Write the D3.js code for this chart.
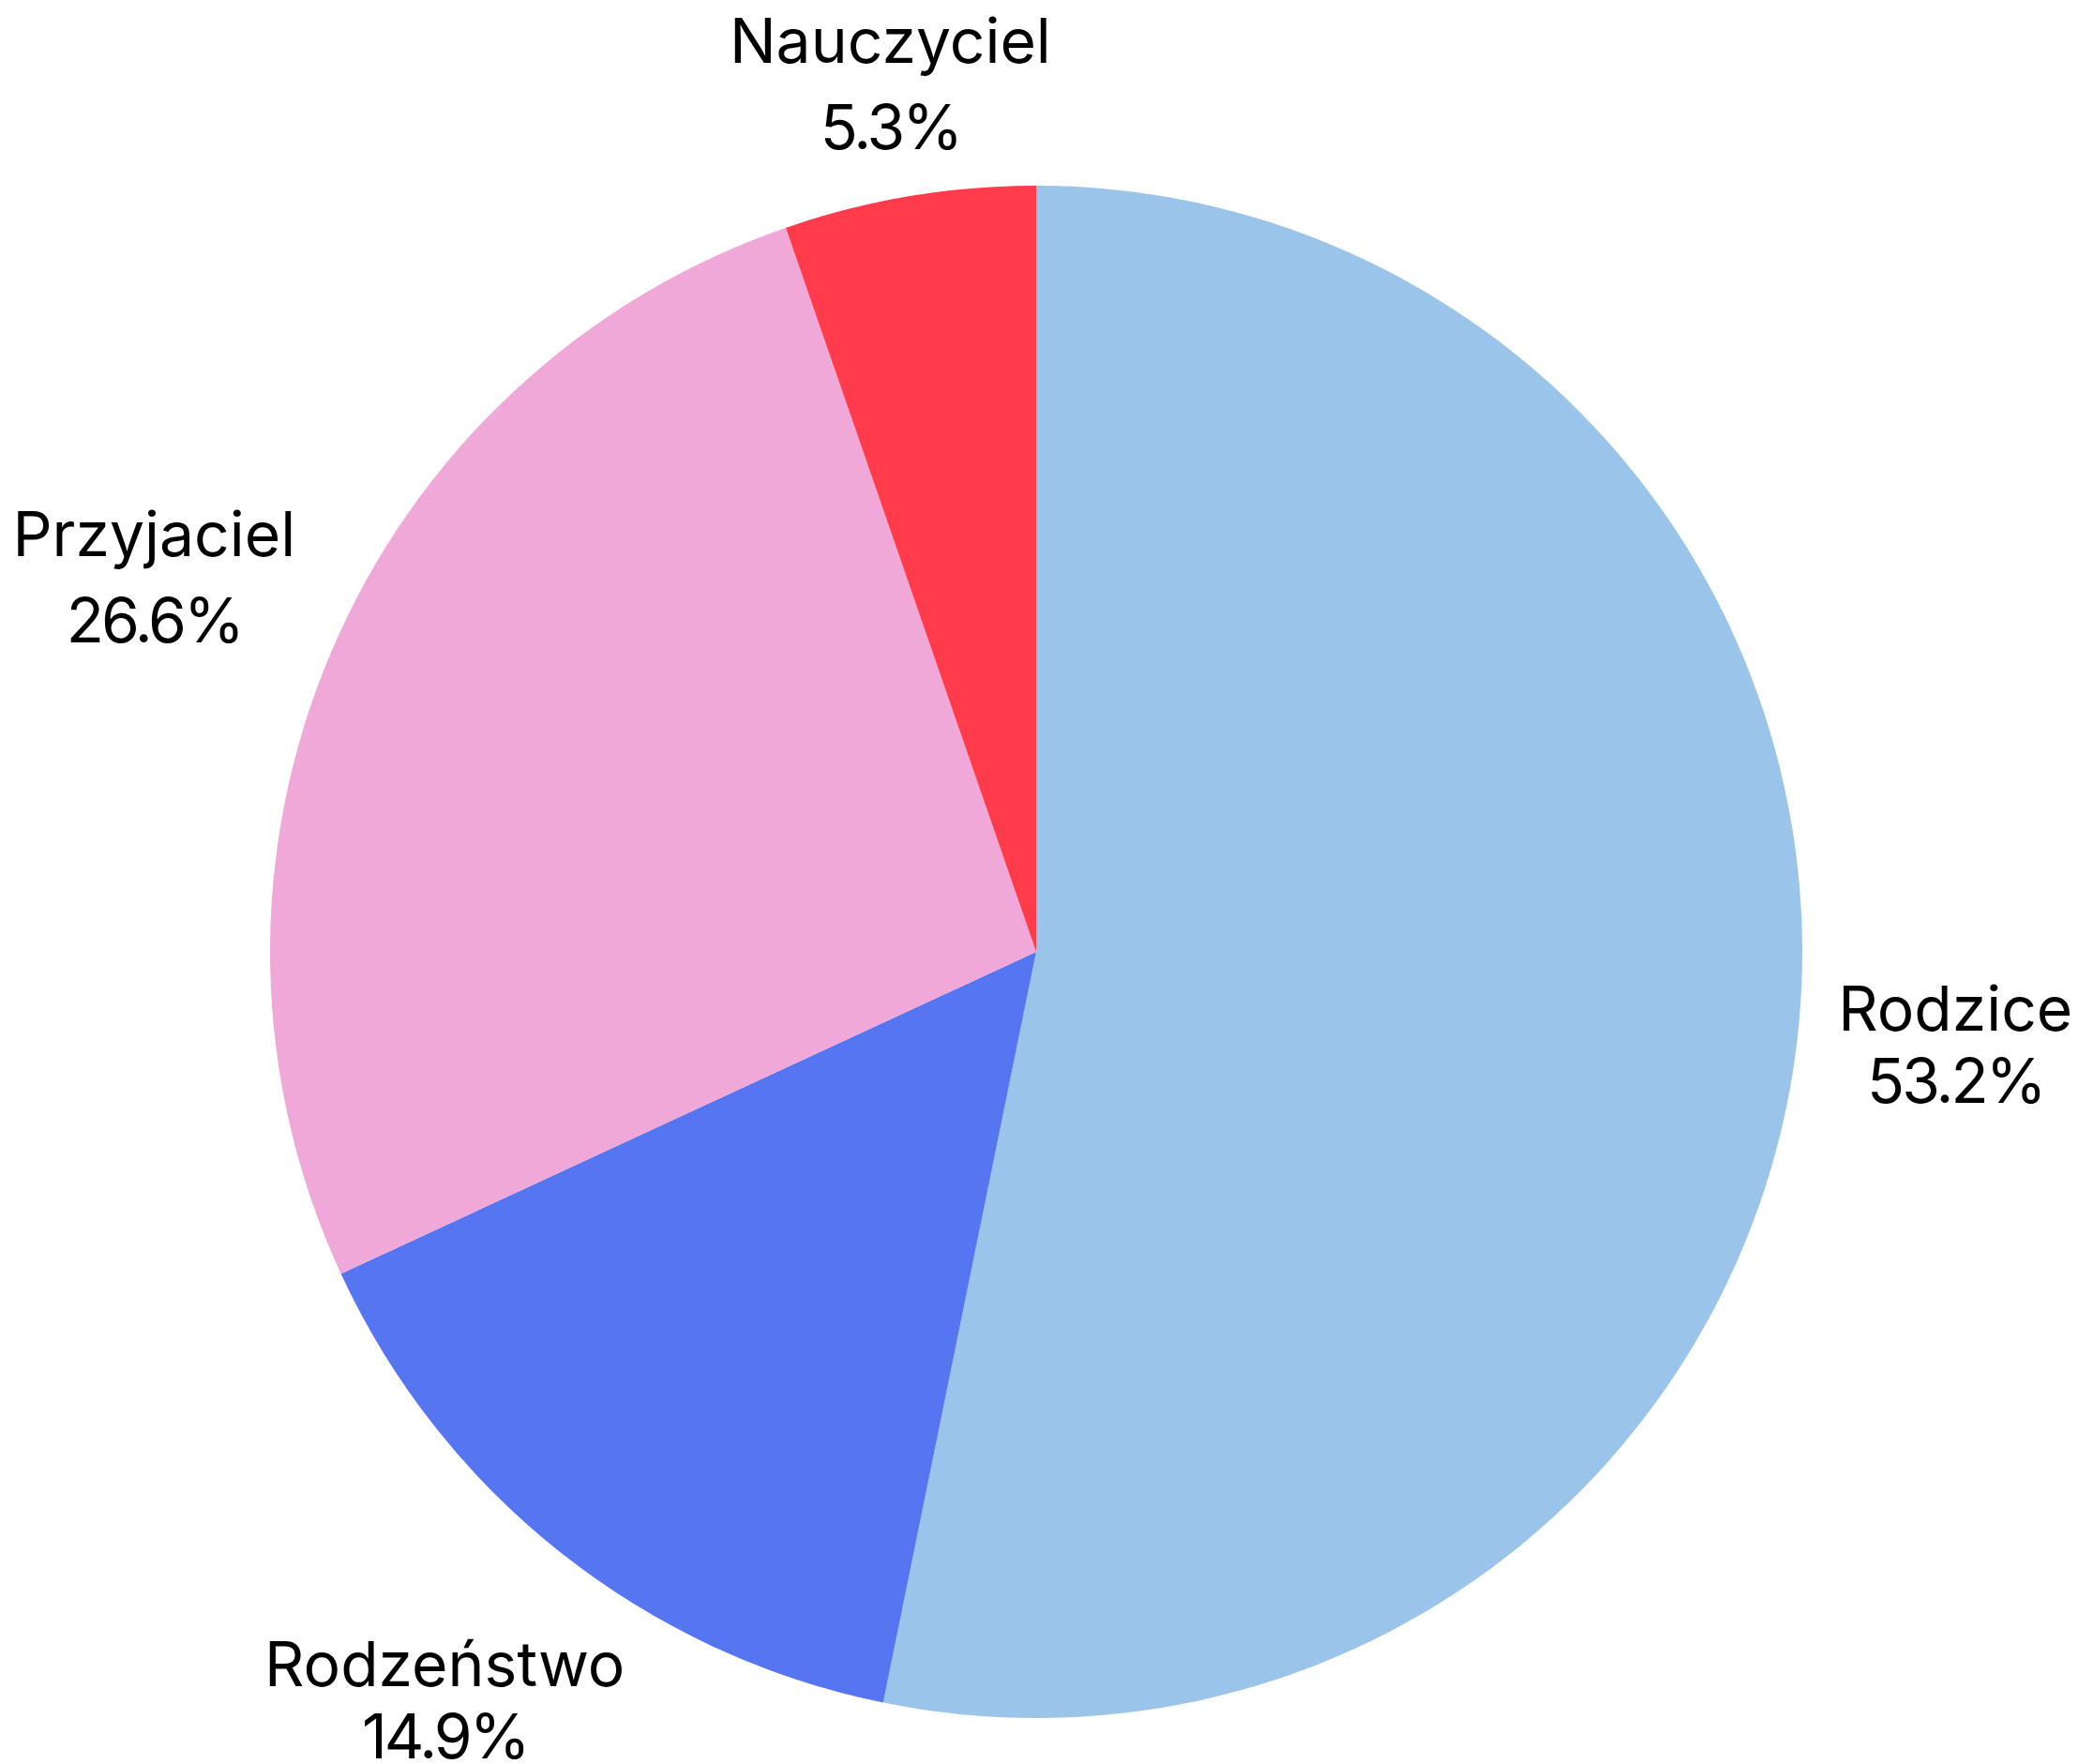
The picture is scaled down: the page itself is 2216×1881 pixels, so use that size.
<!DOCTYPE html>
<html lang="pl">
<head>
    <meta charset="UTF-8">
    <title>Pie</title>
    <script src="https://d3js.org/d3.v7.min.js"></script>
    <style>
        body { margin: 0; background: #fff; }
        svg { display: block; }
    </style>
</head>
<body>
<svg></svg>
<script>
    // data
    const categories = ["Rodzice", "Rodzeństwo", "Przyjaciel", "Nauczyciel"];
    const shares = [53.2, 14.9, 26.6, 5.3];
    const colors = ["#9AC4EA", "#5675F1", "#F0A8D8", "#FF3B4C"];

    const width = 2216;
    const height = 1881;
    const cx = 1105, cy = 1015;
    const radius = 817;
    const labelRadius = 856;   // labels sit just outside the pie
    const fontSize = 66;
    const capH = fontSize * 0.727;

    const svg = d3.select("svg")
        .attr("width", width)
        .attr("height", height);

    svg.append("rect")
        .attr("width", width)
        .attr("height", height)
        .attr("fill", "#fff");

    const data = categories.map((c, i) => ({ name: c, value: shares[i], color: colors[i] }));

    const pie = d3.pie()
        .sort(null)
        .value(d => d.value)
        .startAngle(0)
        .endAngle(2 * Math.PI);

    const arc = d3.arc().innerRadius(0).outerRadius(radius);

    const g = svg.append("g").attr("transform", `translate(${cx}, ${cy})`);
    const arcs = pie(data);

    g.selectAll("path.slice")
        .data(arcs)
        .join("path")
        .attr("class", "slice")
        .attr("d", arc)
        .attr("fill", d => d.data.color);

    // labels: two lines, centred, pushed out along the mid angle
    const labels = g.selectAll("g.label")
        .data(arcs)
        .join("g")
        .attr("class", "label");

    labels.each(function (d) {
        const lg = d3.select(this);
        const a = (d.startAngle + d.endAngle) / 2;
        const ux = Math.sin(a), uy = -Math.cos(a);
        // upper labels have looser line spacing than lower ones
        const lineGap = uy < 0 ? 92 : 77;
        const inkH = capH + lineGap;

        const t = lg.append("text")
            .attr("text-anchor", "middle")
            .style("font-family", "Inter, 'Noto Sans', sans-serif")
            .style("font-size", fontSize + "px")
            .attr("fill", "#000");
        const lines = [d.data.name, d.data.value.toFixed(1) + "%"];
        lines.forEach((s, i) => {
            t.append("tspan")
                .attr("x", 0)
                .attr("y", -inkH / 2 + capH + i * lineGap)
                .style("letter-spacing", i === 1 ? "-3px" : null)
                .text(s);
        });
        let w = 0;
        t.selectAll("tspan").each(function () {
            w = Math.max(w, this.getComputedTextLength());
        });
        const dist = (s) => {
            const px = Math.max(0, Math.abs(s * ux) - w / 2);
            const py = Math.max(0, Math.abs(s * uy) - inkH / 2);
            return Math.hypot(px, py);
        };
        let lo = 0, hi = 3000;
        for (let k = 0; k < 60; k++) {
            const mid = (lo + hi) / 2;
            if (dist(mid) < labelRadius) lo = mid; else hi = mid;
        }
        lg.attr("transform", `translate(${hi * ux}, ${hi * uy})`);
    });
</script>
</body>
</html>
